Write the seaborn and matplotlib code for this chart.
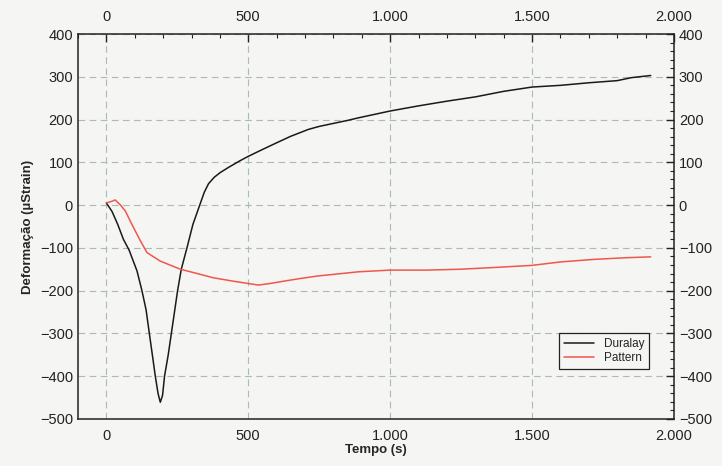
import numpy as np
import pandas as pd
import matplotlib
matplotlib.use("Agg")
import matplotlib.pyplot as plt
import seaborn as sns
from matplotlib.ticker import MultipleLocator, FuncFormatter

# Duralay trace
duralay_t = [0, 20, 40, 60, 80, 108, 125, 140, 151, 162, 172, 182, 190,
             198, 205, 218, 229, 240, 251, 264, 284, 305, 329, 345, 360,
             380, 401, 430, 469, 500, 550, 601, 650, 712, 750, 800, 850,
             888, 1000, 1100, 1200, 1300, 1400, 1500, 1600, 1700, 1800,
             1850, 1918]
duralay_y = [5, -15, -45, -80, -105, -154, -199, -245, -298, -350, -398,
             -440, -461, -445, -400, -350, -300, -250, -200, -150, -100,
             -45, 0, 30, 50, 65, 76, 88, 103, 114, 130, 146, 161, 177,
             184, 191, 198, 204, 220, 232, 243, 253, 266, 276, 280, 286,
             291, 298, 303]

# Pattern trace
pattern_t = [0, 20, 31, 50, 67, 90, 117, 143, 190, 261, 320, 377, 448,
             536, 580, 624, 680, 742, 888, 1000, 1129, 1246, 1364, 1499,
             1599, 1716, 1833, 1918]
pattern_y = [5, 9, 12, 0, -14, -45, -80, -111, -131, -150, -160, -170,
             -178, -187, -183, -178, -172, -166, -156, -152, -152, -150,
             -146, -141, -133, -127, -123, -121]

df = pd.concat([
    pd.DataFrame({"Tempo": duralay_t, "Deformacao": duralay_y, "Serie": "Duralay"}),
    pd.DataFrame({"Tempo": pattern_t, "Deformacao": pattern_y, "Serie": "Pattern"}),
], ignore_index=True)

sns.set_style("white")
plt.rcParams["font.family"] = ["Liberation Sans", "DejaVu Sans"]

fig = plt.figure(figsize=(7.22, 4.66), dpi=100, facecolor="#f5f5f3")
ax = fig.add_axes([0.108, 0.101, 0.8255, 0.826])
ax.set_facecolor("#f5f5f3")

sns.lineplot(data=df, x="Tempo", y="Deformacao", hue="Serie", sort=False,
             palette={"Duralay": "#1a1a1a", "Pattern": "#f0564c"},
             linewidth=1.1, ax=ax)

ax.set_xlim(-100, 2000)
ax.set_ylim(-500, 400)

def br_fmt(v, pos):
    return f"{int(v):,}".replace(",", ".").replace("-", "\u2212")

ax.xaxis.set_major_locator(MultipleLocator(500))
ax.xaxis.set_minor_locator(MultipleLocator(100))
ax.yaxis.set_major_locator(MultipleLocator(100))
ax.yaxis.set_minor_locator(MultipleLocator(20))
ax.xaxis.set_major_formatter(FuncFormatter(br_fmt))
ax.yaxis.set_major_formatter(FuncFormatter(br_fmt))
ax.tick_params(which="both", direction="in", top=True, right=True,
               labeltop=True, labelright=True, labelsize=10.5, colors="#222222")
ax.tick_params(which="major", length=6, width=1)
ax.tick_params(which="minor", length=3, width=0.8)
ax.tick_params(axis="x", which="major", pad=7)

ax.grid(True, which="major", linestyle=(0, (6, 4)), color="#a9bcb8", linewidth=0.8)
for s in ax.spines.values():
    s.set_color("#222222")
    s.set_linewidth(1.1)

ax.set_xlabel("Tempo (s)", fontsize=9.5, fontweight="bold", labelpad=1)
ax.set_ylabel("Deformação (µStrain)", fontsize=9.5, fontweight="bold", labelpad=4)

leg = ax.legend(loc="lower left", bbox_to_anchor=(0.797, 0.115), frameon=True,
                fancybox=False, fontsize=8.5, handlelength=2.6,
                borderpad=0.4, labelspacing=0.2, title=None)
leg.get_frame().set_edgecolor("#222222")
leg.get_frame().set_linewidth(0.9)
leg.get_frame().set_facecolor("#f5f5f3")
leg.get_frame().set_alpha(1)

fig.savefig("out.png", dpi=100, facecolor=fig.get_facecolor())
